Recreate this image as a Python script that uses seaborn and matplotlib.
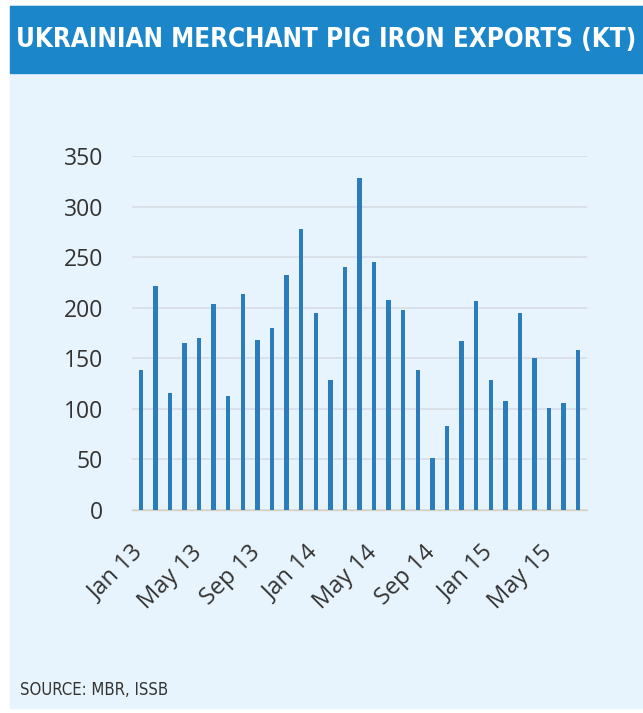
import matplotlib
import matplotlib.pyplot as plt
import matplotlib.transforms as mtransforms
import pandas as pd
import seaborn as sns
from matplotlib.patches import Rectangle

months = [
    "Jan 13", "Feb 13", "Mar 13", "Apr 13", "May 13", "Jun 13", "Jul 13", "Aug 13",
    "Sep 13", "Oct 13", "Nov 13", "Dec 13", "Jan 14", "Feb 14", "Mar 14", "Apr 14",
    "May 14", "Jun 14", "Jul 14", "Aug 14", "Sep 14", "Oct 14", "Nov 14", "Dec 14",
    "Jan 15", "Feb 15", "Mar 15", "Apr 15", "May 15", "Jun 15", "Jul 15",
]
exports_kt = [
    138, 221, 116, 165, 170, 204, 113, 214, 168, 180, 232, 278, 195, 129, 240, 328,
    245, 208, 198, 138, 51, 83, 167, 207, 129, 108, 195, 150, 101, 106, 158,
]
yticks = [0, 50, 100, 150, 200, 250, 300, 350]

PANEL = "#e8f4fd"
TITLE_BLUE = "#1b86c9"
BAR = "#2a7cba"
TEXT = "#333333"

sns.set_theme(style="white")
plt.rcParams["font.family"] = ["Open Sans", "DejaVu Sans"]

df = pd.DataFrame({"Month": months, "Exports": exports_kt})

fig = plt.figure(figsize=(6.43, 7.13), dpi=100)
fig.patch.set_facecolor("white")

# light panel and title bar, kept behind the axes
fig.patches.append(Rectangle((10 / 643, 5 / 713), 633 / 643, 703 / 713,
                             transform=fig.transFigure, color=PANEL, zorder=-2))
fig.patches.append(Rectangle((10 / 643, 1 - 73 / 713), 633 / 643, 67 / 713,
                             transform=fig.transFigure, color=TITLE_BLUE, zorder=-1))
fig.text(16 / 643, 1 - 40 / 713, "UKRAINIAN MERCHANT PIG IRON EXPORTS (KT)",
         color="white", fontsize=18.6, fontweight="heavy", fontstretch="condensed",
         family=["DejaVu Sans"], va="center", ha="left")
fig.text(20 / 643, 1 - 690 / 713, "SOURCE: MBR, ISSB", color=TEXT, fontsize=12,
         fontstretch="condensed", family=["DejaVu Sans"], va="center", ha="left")

ax = fig.add_axes([132 / 643, 1 - 510 / 713, 455 / 643, 354 / 713])
ax.set_facecolor(PANEL)
sns.barplot(data=df, x="Month", y="Exports", color=BAR, width=0.3,
            saturation=1, linewidth=0, ax=ax, zorder=3)

ax.set_ylim(0, 350)
ax.set_xlim(-0.6, len(months) - 0.4)
ax.set_yticks(yticks)
ax.yaxis.grid(True, color="#d6dde3", linewidth=1.2, zorder=0)
ax.set_axisbelow(True)
for side in ["top", "right", "left"]:
    ax.spines[side].set_visible(False)
ax.spines["bottom"].set_color("#d6d0c0")
ax.spines["bottom"].set_linewidth(1)

tick_pos = list(range(0, len(months), 4))
ax.set_xticks(tick_pos)
ax.set_xticklabels([months[i] for i in tick_pos], rotation=45, ha="right",
                   rotation_mode="anchor", fontsize=17, color=TEXT)
ax.tick_params(axis="x", length=0, pad=22)
ax.tick_params(axis="y", length=0, pad=21, labelsize=16.5, labelcolor=TEXT)
shift = mtransforms.ScaledTranslation(-9 / 100, 0, fig.dpi_scale_trans)
for lbl in ax.get_xticklabels():
    lbl.set_transform(lbl.get_transform() + shift)
ax.set_xlabel("")
ax.set_ylabel("")

fig.savefig("out.png", dpi=100)
